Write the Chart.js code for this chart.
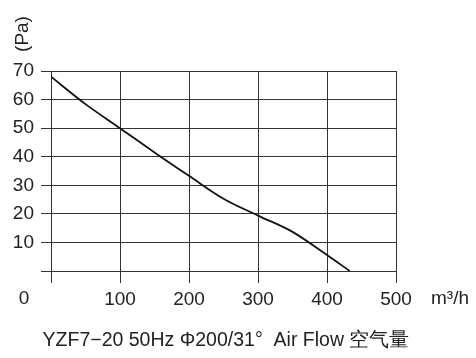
<!DOCTYPE html>
<html>
<head>
<meta charset="utf-8">
<script src="https://cdn.jsdelivr.net/npm/chart.js@4"></script>
<style>
html,body{margin:0;padding:0;background:#fff;}
#wrap{width:476px;height:358px;}
</style>
</head>
<body>
<div id="wrap"><canvas id="c" width="476" height="358"></canvas></div>
<script>
// Data
const flowValues = [0, 50, 100, 150, 200, 250, 300, 350, 400, 433];
const pressureValues = [68, 58.4, 50, 41.5, 33.3, 25.3, 19.4, 13.7, 5.6, 0];
const xTickValues = [0, 100, 200, 300, 400, 500];
const yTickValues = [0, 10, 20, 30, 40, 50, 60, 70];
const yUnit = '(Pa)';
const xUnit = 'm³/h';
const originLabel = '0';
const chartTitle = 'YZF7−20 50Hz Φ200/31°  Air Flow 空气量';

const FONT = '"Liberation Sans", Arial, Helvetica, sans-serif';
const TEXT_COLOR = '#222';
const GRID_COLOR = '#333';

const extraText = {
  id: 'extraText',
  afterDraw(chart) {
    const ctx = chart.ctx;
    ctx.save();
    ctx.fillStyle = TEXT_COLOR;
    ctx.font = '19px ' + FONT;
    ctx.textAlign = 'center';
    ctx.textBaseline = 'middle';
    ctx.save();
    ctx.translate(23, 34);
    ctx.rotate(-Math.PI / 2);
    ctx.fillText(yUnit, 0, 0);
    ctx.restore();
    ctx.fillText(originLabel, 24, 299);
    ctx.textAlign = 'left';
    ctx.fillText(xUnit, 431, 299);
    ctx.font = '19.5px ' + FONT;
    ctx.textAlign = 'center';
    ctx.fillText(chartTitle, 226, 341);
    ctx.restore();
  }
};

new Chart(document.getElementById('c'), {
  type: 'line',
  data: {
    datasets: [{
      data: flowValues.map((f, i) => ({x: f, y: pressureValues[i]})),
      borderColor: '#111',
      borderWidth: 1.8,
      pointRadius: 0,
      fill: false,
      cubicInterpolationMode: 'monotone'
    }]
  },
  options: {
    responsive: false,
    animation: false,
    devicePixelRatio: 1,
    layout: {padding: {left: 0, top: 71, right: 80, bottom: 0}},
    plugins: {legend: {display: false}, tooltip: {enabled: false}, title: {display: false}},
    scales: {
      x: {
        type: 'linear',
        min: 0, max: 500,
        afterBuildTicks(scale) { scale.ticks = xTickValues.map(v => ({value: v})); },
        afterFit(scale) { scale.height = 87; },
        grid: {color: GRID_COLOR, lineWidth: 1, drawTicks: true, tickLength: 12, tickColor: GRID_COLOR},
        border: {display: true, color: GRID_COLOR, width: 1},
        ticks: {
          color: TEXT_COLOR,
          font: {family: FONT, size: 19},
          padding: 5,
          maxRotation: 0,
          callback: v => (v === 0 ? '' : String(v))
        }
      },
      y: {
        type: 'linear',
        min: 0, max: 70,
        afterBuildTicks(scale) { scale.ticks = yTickValues.map(v => ({value: v})); },
        afterFit(scale) { scale.width = 51; },
        grid: {color: GRID_COLOR, lineWidth: 1, drawTicks: true, tickLength: 10, tickColor: GRID_COLOR},
        border: {display: true, color: GRID_COLOR, width: 1},
        ticks: {
          color: TEXT_COLOR,
          font: {family: FONT, size: 19},
          padding: 7,
          callback: v => (v === 0 ? '' : String(v))
        }
      }
    }
  },
  plugins: [extraText]
});
</script>
</body>
</html>
